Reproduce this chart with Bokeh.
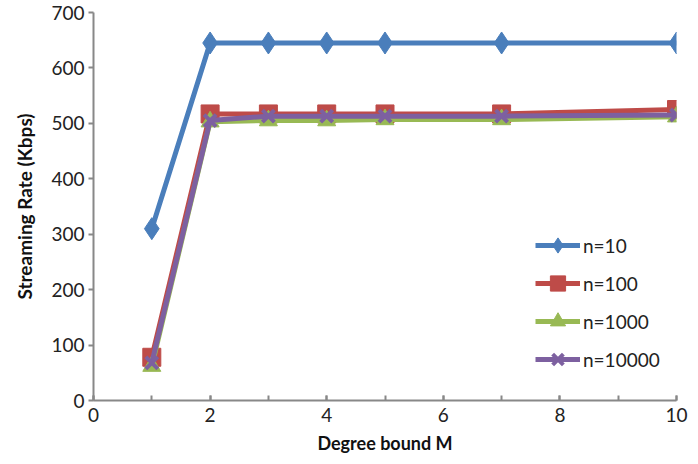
from bokeh.plotting import figure
from bokeh.models import Range1d, SingleIntervalTicker, Legend, LegendItem
from bokeh.embed import file_html
from bokeh.resources import INLINE

degree = [1, 2, 3, 4, 5, 7, 10]
n10 = [310, 645, 645, 645, 645, 645, 645]
n100 = [78, 517, 517, 517, 517, 517, 525]
n1000 = [62, 503, 505, 505, 507, 507, 512]
n10000 = [68, 505, 513, 513, 513, 513, 515]

labels = ["n=10", "n=100", "n=1000", "n=10000"]
series = [n10, n100, n1000, n10000]
colors = ["#4A7EBB", "#BE4B48", "#98B954", "#7D60A0"]
markers = ["diamond", "square", "triangle", "x"]
sizes = [22, 18, 18, 17]

FONT = "Lato"

p = figure(frame_width=583, frame_height=388, output_backend="svg", toolbar_location=None,
           x_range=Range1d(0, 10), y_range=Range1d(0, 700),
           min_border_left=93, min_border_right=14, min_border_top=12, min_border_bottom=56)
p.outline_line_color = None
p.xgrid.visible = False
p.ygrid.visible = False
p.background_fill_color = "white"
p.border_fill_color = "white"

items = []
for lab, ys, c, m, s in zip(labels, series, colors, markers, sizes):
    r1 = p.line(degree, ys, line_color=c, line_width=5)
    if m == "x":
        r2 = p.scatter(degree, ys, marker=m, size=s, line_color=c, line_width=4)
    else:
        r2 = p.scatter(degree, ys, marker=m, size=s, fill_color=c, line_color=c)
    items.append(LegendItem(label=lab, renderers=[r1, r2]))

legend = Legend(items=items, location=(442, 22), border_line_color=None,
                background_fill_alpha=0, label_text_font=FONT, label_text_font_size="19px",
                label_text_color="#222222", glyph_width=45, glyph_height=38, spacing=0,
                label_standoff=3, padding=0, margin=0, label_height=38)
p.add_layout(legend, "center")

p.xaxis.ticker = SingleIntervalTicker(interval=2, num_minor_ticks=2)
p.yaxis.ticker = SingleIntervalTicker(interval=100, num_minor_ticks=0)
p.xaxis.axis_label = "Degree bound M"
p.yaxis.axis_label = "Streaming Rate (Kbps)"
for ax in (p.xaxis[0], p.yaxis[0]):
    ax.axis_line_color = "#888888"
    ax.axis_line_width = 2
    ax.major_tick_line_color = "#888888"
    ax.minor_tick_line_color = "#888888"
    ax.major_tick_line_width = 2
    ax.minor_tick_line_width = 2
    ax.major_label_text_font = FONT
    ax.major_label_text_font_size = "19px"
    ax.major_label_text_color = "#222222"
    ax.axis_label_text_font = FONT
    ax.axis_label_text_font_size = "18px"
    ax.axis_label_text_font_style = "bold"
    ax.axis_label_text_color = "#111111"
p.yaxis.axis_label_text_font_size = "19px"
p.xaxis.major_tick_in = 5
p.xaxis.major_tick_out = 0
p.xaxis.minor_tick_in = 5
p.xaxis.minor_tick_out = 0
p.xaxis.major_label_standoff = 7
p.xaxis.axis_label_standoff = 7
p.yaxis.major_tick_in = 0
p.yaxis.major_tick_out = 5
p.yaxis.major_label_standoff = 4
p.yaxis.axis_label_standoff = 12

open("out.html", "w").write(file_html(p, INLINE))
